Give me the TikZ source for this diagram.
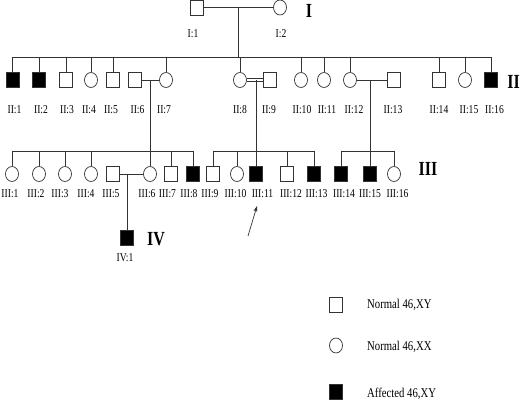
\documentclass[tikz,border=0pt]{standalone}
\usepackage{fontspec}
\setmainfont{Liberation Serif}[FakeStretch=0.8]
\usetikzlibrary{shapes.geometric,arrows.meta}
\begin{document}
\begin{tikzpicture}[x=1pt,y=-1pt,
  ln/.style={draw=black!80, line width=0.7pt},
  sq/.style={rectangle, draw=black!80, line width=0.7pt, minimum width=13pt, minimum height=15pt, inner sep=0pt},
  aff/.style={sq, fill=black},
  ci/.style={ellipse, draw=black!80, line width=0.7pt, minimum width=13pt, minimum height=15pt, inner sep=0pt},
  lbl/.style={font=\fontsize{12}{12}\selectfont, anchor=base, inner sep=0pt},
  gen/.style={font=\bfseries\fontsize{20}{20}\selectfont, anchor=base, inner sep=0pt},
  leg/.style={font=\fontsize{13.4}{14}\selectfont, anchor=base west, inner sep=0pt}
]
\useasboundingbox (0,0) rectangle (520,400);

% Generation I
\node[sq] (I1) at (197,7.5) {};
\node[ci] (I2) at (280,7.5) {};
\node[lbl] (lI1) at (193,37) {I:1};
\node[lbl] (lI2) at (281,37) {I:2};
\node[gen] (g1) at (309,17) {I};

% Generation II
\node[aff] (II1) at (12.5,80) {};
\node[aff] (II2) at (39,80) {};
\node[sq] (II3) at (66,80) {};
\node[ci] (II4) at (91,80) {};
\node[sq] (II5) at (113,80) {};
\node[sq] (II6) at (135,80) {};
\node[ci] (II7) at (166,80) {};
\node[ci] (II8) at (240,80) {};
\node[sq] (II9) at (270,80) {};
\node[ci] (II10) at (301,80) {};
\node[ci] (II11) at (324,80) {};
\node[ci] (II12) at (350,80) {};
\node[sq] (II13) at (394,80) {};
\node[sq] (II14) at (439,80) {};
\node[ci] (II15) at (465,80) {};
\node[aff] (II16) at (491,80) {};
\node[gen] (g2) at (513.5,88) {II};
\foreach \nm/\x/\t in {1/14.5/II:1, 2/41/II:2, 3/67/II:3, 4/89/II:4, 5/111/II:5, 6/137.5/II:6, 7/164/II:7, 8/240/II:8, 9/269/II:9, 10/302/II:10, 11/327/II:11, 12/354/II:12, 13/393/II:13, 14/439/II:14, 15/469/II:15, 16/494.5/II:16}
  \node[lbl] (lII\nm) at (\x,113) {\t};

% Generation III
\node[ci] (III1) at (12,174) {};
\node[ci] (III2) at (39,174) {};
\node[ci] (III3) at (65,174) {};
\node[ci] (III4) at (91,174) {};
\node[sq] (III5) at (113,174) {};
\node[ci] (III6) at (150,174) {};
\node[sq] (III7) at (171,174) {};
\node[aff] (III8) at (193,174) {};
\node[sq] (III9) at (213,174) {};
\node[ci] (III10) at (237,174) {};
\node[aff] (III11) at (256,174) {};
\node[sq] (III12) at (287,174) {};
\node[aff] (III13) at (314,174) {};
\node[aff] (III14) at (341,174) {};
\node[aff] (III15) at (370,174) {};
\node[ci] (III16) at (394,174) {};
\node[gen] (g3) at (428,175) {III};
\foreach \nm/\x/\t in {1/10/III:1, 2/36/III:2, 3/60/III:3, 4/86/III:4, 5/111/III:5, 6/147/III:6, 7/167.5/III:7, 8/189/III:8, 9/210/III:9, 10/235.5/III:10, 11/262.5/III:11, 12/291/III:12, 13/316.5/III:13, 14/344/III:14, 15/370/III:15, 16/397.5/III:16}
  \node[lbl] (lIII\nm) at (\x,197) {\t};

% Generation IV
\node[aff] (IV1) at (127,238) {};
\node[lbl] (lIV1) at (125,261) {IV:1};
\node[gen] (g4) at (156,245) {IV};

% coordinates
\coordinate (s2) at (0,57);
\coordinate (s3) at (0,151);
\coordinate (m1) at (238,7.5);
\coordinate (m2) at (150,80);
\coordinate (m3) at (256,80);
\coordinate (m4) at (370,80);
\coordinate (m5) at (127,174);

% connectors generation I -> II
\draw[ln] (I1) -- (I2);
\draw[ln] (m1) -- (m1 |- s2);
\draw[ln] (II1.north |- s2) -- (II16.north |- s2);
\foreach \n in {II1,II2,II3,II4,II5,II7,II8,II10,II11,II12,II14,II15,II16}
  \draw[ln] (\n.north) -- (\n.north |- s2);

% II:6 x II:7
\draw[ln] (II6) -- (II7);
\draw[ln] (m2) -- (m2 |- s3);
\draw[ln] (III1.north |- s3) -- (III8.north |- s3);
\foreach \n in {III1,III2,III3,III4,III6,III7,III8}
  \draw[ln] (\n.north) -- (\n.north |- s3);

% II:8 = II:9 (consanguineous)
\draw[ln] ([yshift=1.6pt]II8.east) -- ([yshift=1.6pt]II9.west);
\draw[ln] ([yshift=-1.6pt]II8.east) -- ([yshift=-1.6pt]II9.west);
\draw[ln] (m3) -- (m3 |- s3);
\draw[ln] (III9.north |- s3) -- (III13.north |- s3);
\foreach \n in {III9,III10,III11,III12,III13}
  \draw[ln] (\n.north) -- (\n.north |- s3);

% II:12 x II:13
\draw[ln] (II12) -- (II13);
\draw[ln] (m4) -- (m4 |- s3);
\draw[ln] (III14.north |- s3) -- (III16.north |- s3);
\foreach \n in {III14,III15,III16}
  \draw[ln] (\n.north) -- (\n.north |- s3);

% III:5 x III:6
\draw[ln] (III5) -- (III6);
\draw[ln] (m5) -- (IV1.north);

% proband arrow
\coordinate (at) at (248,236);
\coordinate (ah) at (257,206);
\draw[ln, -{Stealth[length=6pt,width=4pt]}] (at) -- (ah);

% legend
\node[sq] (L1) at (336,304.5) {};
\node[ci] (L2) at (336,345.5) {};
\node[aff] (L3) at (336,391.5) {};
\node[leg] (T1) at (367,308) {Normal 46,XY};
\node[leg] (T2) at (367,350) {Normal 46,XX};
\node[leg] (T3) at (367,397) {Affected 46,XY};
\end{tikzpicture}
\end{document}
